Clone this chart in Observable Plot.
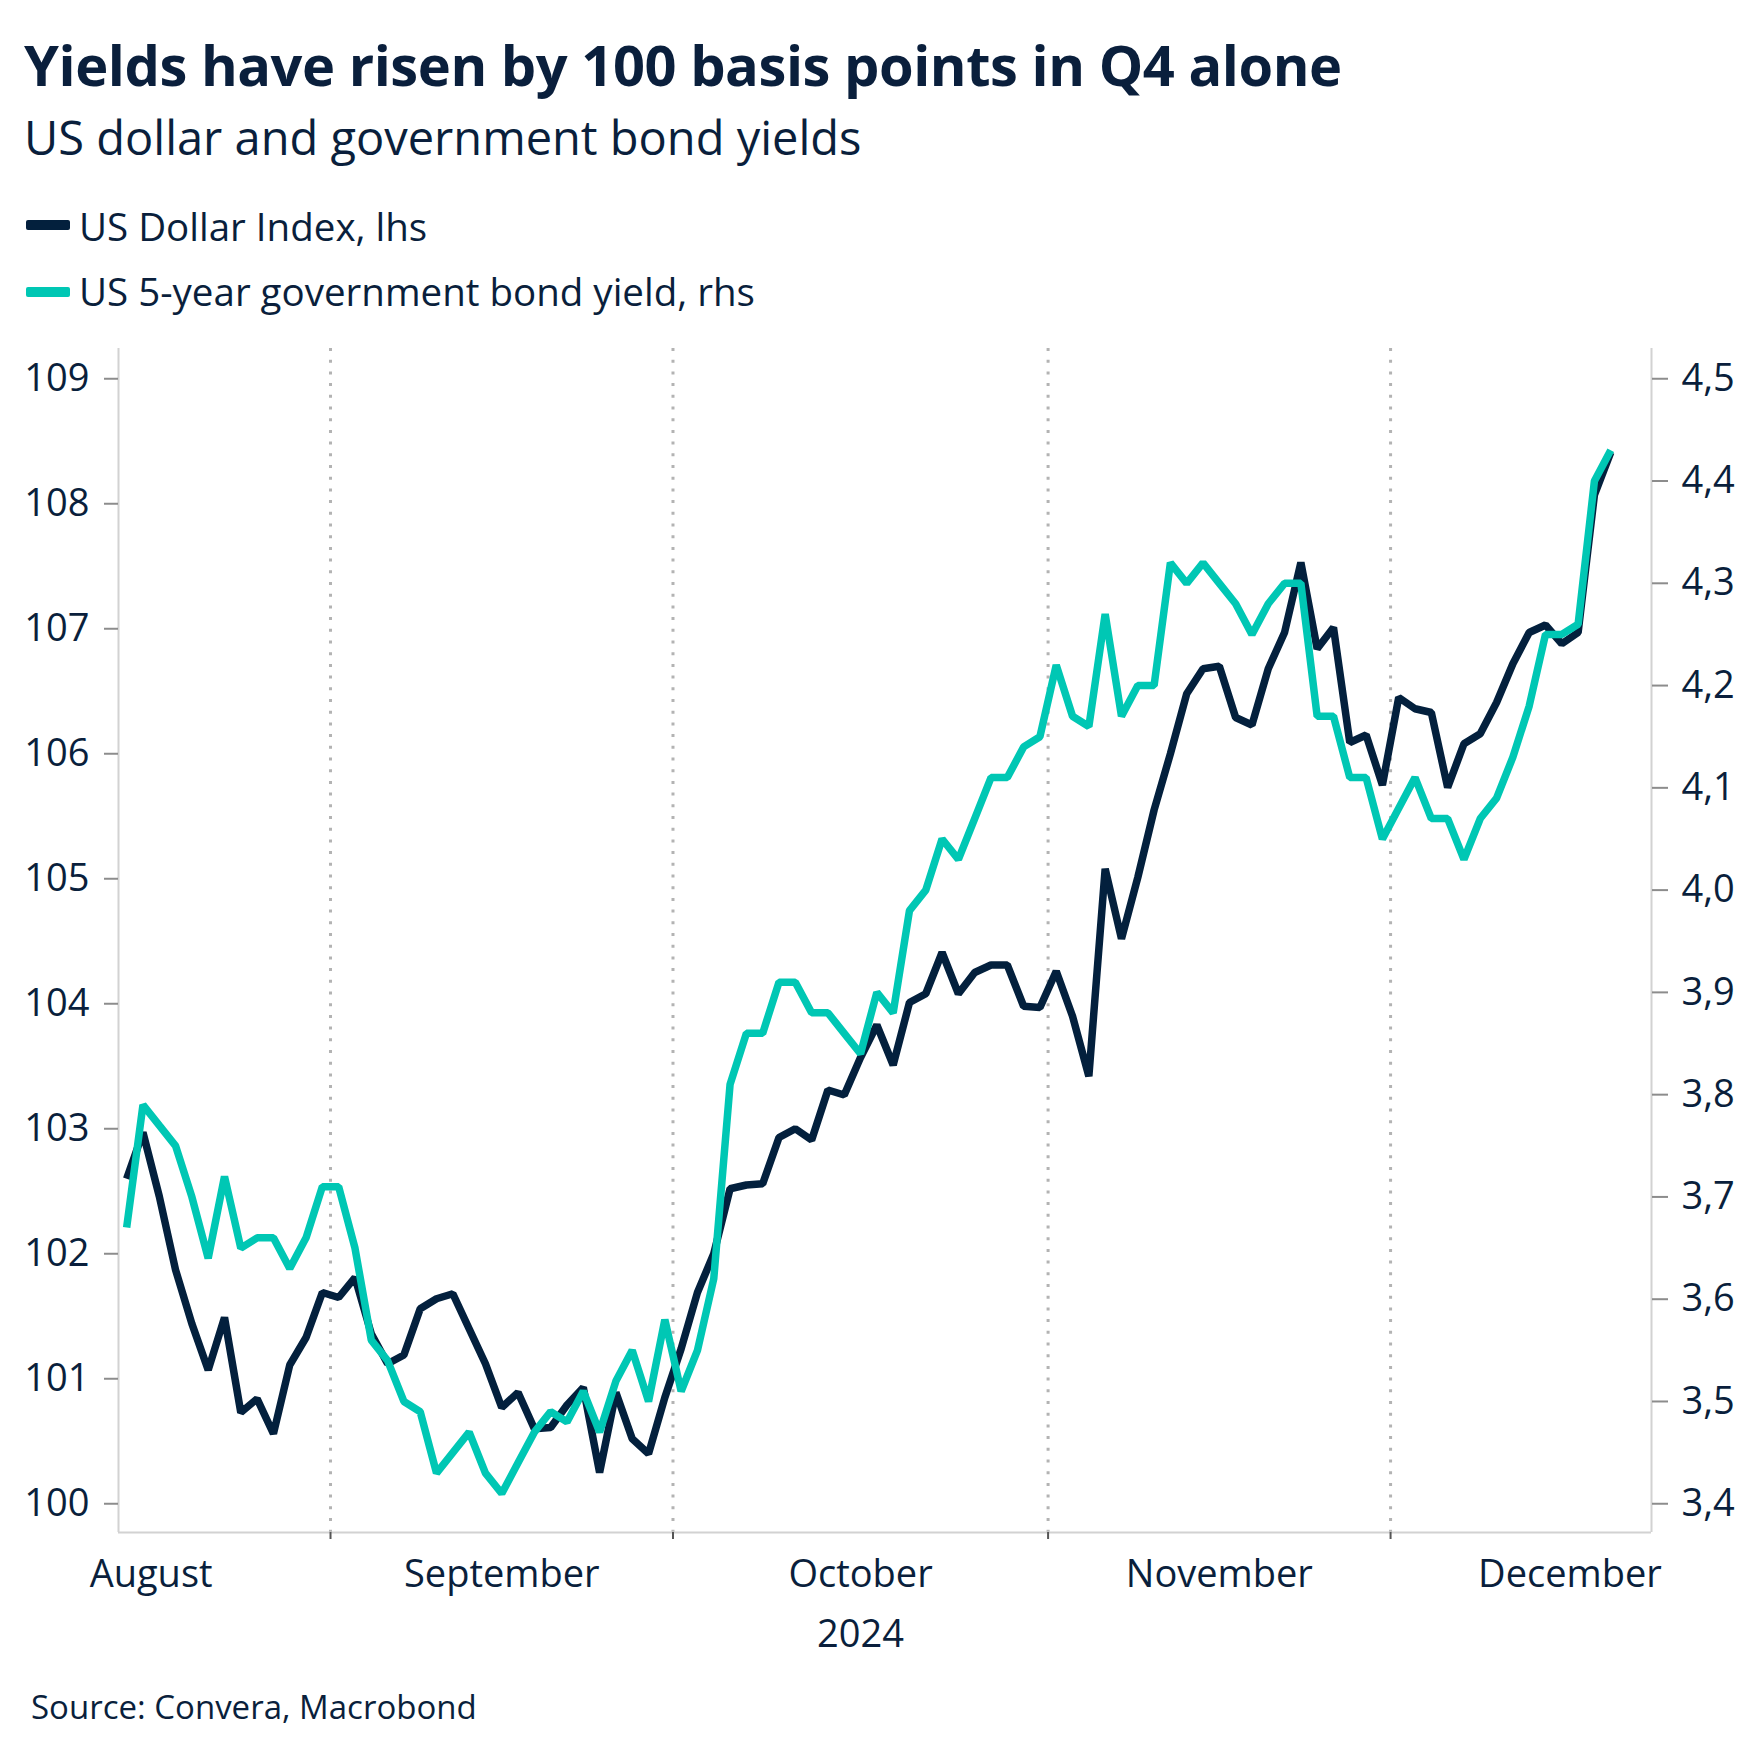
<!DOCTYPE html>
<html>
<head>
<meta charset="utf-8">
<script src="https://cdn.jsdelivr.net/npm/d3@7"></script>
<script src="https://cdn.jsdelivr.net/npm/@observablehq/plot@0.6"></script>
<style>
  html, body { margin: 0; padding: 0; background: #ffffff; }
  #page { position: relative; width: 1758px; height: 1762px; background: #ffffff; font-family: "Open Sans", sans-serif; color: #0a1f3c; }
  .t { position: absolute; white-space: nowrap; line-height: 1; }
  .sw { position: absolute; width: 44px; height: 10px; border-radius: 2px; }
  #chart { position: absolute; left: 0; top: 330px; }
</style>
</head>
<body>
<div id="page">
  <div class="t" id="title" style="left:24px; font-size:56px; font-weight:700; letter-spacing:-0.45px;">Yields have risen by 100 basis points in Q4 alone</div>
  <div class="t" id="subtitle" style="left:24px; font-size:47px;">US dollar and government bond yields</div>
  <div class="sw" id="sw1" style="left:26px; top:220px;"></div>
  <div class="t" id="leg1" style="left:79px; font-size:38.5px;"></div>
  <div class="sw" id="sw2" style="left:26px; top:287px;"></div>
  <div class="t" id="leg2" style="left:79px; font-size:38.5px;"></div>
  <div id="chart"></div>
  <div class="t" id="source" style="left:31px; font-size:33px;">Source: Convera, Macrobond</div>
</div>
<script>
// ---------- data ----------
const dates = [
  "2024-08-14","2024-08-15","2024-08-16","2024-08-19","2024-08-20","2024-08-21","2024-08-22","2024-08-23","2024-08-26","2024-08-27","2024-08-28","2024-08-29","2024-08-30",
  "2024-09-02","2024-09-03","2024-09-04","2024-09-05","2024-09-06","2024-09-09","2024-09-10","2024-09-11","2024-09-12","2024-09-13","2024-09-16","2024-09-17","2024-09-18","2024-09-19","2024-09-20","2024-09-23","2024-09-24","2024-09-25","2024-09-26","2024-09-27","2024-09-30",
  "2024-10-01","2024-10-02","2024-10-03","2024-10-04","2024-10-07","2024-10-08","2024-10-09","2024-10-10","2024-10-11","2024-10-14","2024-10-15","2024-10-16","2024-10-17","2024-10-18","2024-10-21","2024-10-22","2024-10-23","2024-10-24","2024-10-25","2024-10-28","2024-10-29","2024-10-30","2024-10-31",
  "2024-11-01","2024-11-04","2024-11-05","2024-11-06","2024-11-07","2024-11-08","2024-11-11","2024-11-12","2024-11-13","2024-11-14","2024-11-15","2024-11-18","2024-11-19","2024-11-20","2024-11-21","2024-11-22","2024-11-25","2024-11-26","2024-11-27","2024-11-28","2024-11-29",
  "2024-12-02","2024-12-03","2024-12-04","2024-12-05","2024-12-06","2024-12-09","2024-12-10","2024-12-11","2024-12-12","2024-12-13","2024-12-16","2024-12-17","2024-12-18","2024-12-19"
];
const dollarIndex = [
  102.60,102.97,102.46,101.87,101.44,101.07,101.49,100.73,100.84,100.56,101.11,101.33,101.69,
  101.65,101.81,101.36,101.12,101.19,101.56,101.64,101.68,101.40,101.12,100.77,100.89,100.60,100.61,100.79,100.93,100.25,100.89,100.52,100.40,100.85,
  101.24,101.69,102.00,102.52,102.55,102.56,102.93,103.00,102.91,103.31,103.27,103.57,103.83,103.51,104.01,104.08,104.41,104.08,104.25,104.31,104.31,103.98,103.97,
  104.26,103.90,103.42,105.08,104.52,105.01,105.55,106.00,106.48,106.68,106.70,106.29,106.23,106.68,106.97,107.53,106.84,107.01,106.09,106.15,105.75,
  106.45,106.36,106.33,105.73,106.08,106.16,106.41,106.72,106.97,107.03,106.88,106.97,108.07,108.41
];
const yield5y = [
  3.67,3.79,3.77,3.75,3.70,3.64,3.72,3.65,3.66,3.66,3.63,3.66,3.71,
  3.71,3.65,3.56,3.54,3.50,3.49,3.43,3.45,3.47,3.43,3.41,3.44,3.47,3.49,3.48,3.51,3.47,3.52,3.55,3.50,3.58,
  3.51,3.55,3.62,3.81,3.86,3.86,3.91,3.91,3.88,3.88,3.86,3.84,3.90,3.88,3.98,4.00,4.05,4.03,4.07,4.11,4.11,4.14,4.15,
  4.22,4.17,4.16,4.27,4.17,4.20,4.20,4.32,4.30,4.32,4.30,4.28,4.25,4.28,4.30,4.30,4.17,4.17,4.11,4.11,4.05,
  4.08,4.11,4.07,4.07,4.03,4.07,4.09,4.13,4.18,4.25,4.25,4.26,4.40,4.43
];
const seriesNames = ["US Dollar Index, lhs", "US 5-year government bond yield, rhs"];
const leftTicks = [100, 101, 102, 103, 104, 105, 106, 107, 108, 109];
const rightTicks = [3.4, 3.5, 3.6, 3.7, 3.8, 3.9, 4.0, 4.1, 4.2, 4.3, 4.4, 4.5];
const rightTickLabels = ["3,4","3,5","3,6","3,7","3,8","3,9","4,0","4,1","4,2","4,3","4,4","4,5"];
const monthStarts = ["2024-08-01","2024-09-01","2024-10-01","2024-11-01","2024-12-01","2025-01-01"];
const monthLabels = ["August","September","October","November","December"];
const yearLabel = "2024";
const axisStart = "2024-08-14";
const axisEnd = "2024-12-23";

// ---------- colours ----------
const navy = "#03203d";
const teal = "#00c7b4";
const textColor = "#0a1f3c";

// ---------- helpers ----------
const start = new Date(axisStart);
const isWeekday = d => d.getUTCDay() % 6 !== 0;
function wdIndex(s) {
  const d = new Date(s);
  if (d >= start) return d3.utcDays(start, d).filter(isWeekday).length;
  return -d3.utcDays(d, start).filter(isWeekday).length;
}
// left scale 100..109 corresponds to right scale 3.4..4.5
const toLeft = v => 100 + (v - 3.4) * 9 / 1.1;

const rows = dates.map((d, i) => ({xi: wdIndex(d) + 0.5, dxy: dollarIndex[i], y5: yield5y[i]}));
const xMax = wdIndex(axisEnd) + 1;
const monthIdx = monthStarts.map(wdIndex);
const boundaries = monthIdx.slice(1, -1);
const monthMids = monthLabels.map((m, i) => (monthIdx[i] + monthIdx[i + 1]) / 2);
const rightTicksLeft = rightTicks.map(toLeft);
const yMin = 99.77, yMax = 109.242;

// ---------- header ----------
function placeBaseline(id, baseline) {
  const el = document.getElementById(id);
  const fs = parseFloat(el.style.fontSize);
  el.style.top = (baseline - 0.888 * fs) + "px";
}
document.getElementById("leg1").textContent = seriesNames[0];
document.getElementById("leg2").textContent = seriesNames[1];
document.getElementById("sw1").style.background = navy;
document.getElementById("sw2").style.background = teal;
placeBaseline("title", 86);
placeBaseline("subtitle", 156);
placeBaseline("leg1", 241);
placeBaseline("leg2", 306);
placeBaseline("source", 1719);

// ---------- chart ----------
const chart = Plot.plot({
  width: 1758,
  height: 1340,
  marginTop: 18,
  marginBottom: 138,
  marginLeft: 118,
  marginRight: 107,
  x: {domain: [0, xMax]},
  y: {domain: [yMin, yMax]},
  style: {fontFamily: "'Open Sans', sans-serif", fontSize: "38px", color: textColor, background: "white", overflow: "visible"},
  marks: [
    Plot.ruleX(boundaries, {stroke: "#b3b3b3", strokeWidth: 3, strokeDasharray: "3,8.7"}),
    Plot.ruleX([0, xMax], {stroke: "#d2d2d2", strokeWidth: 2}),
    Plot.ruleY([yMin], {stroke: "#d2d2d2", strokeWidth: 2}),
    Plot.axisY(leftTicks, {anchor: "left", tickSize: 14, tickPadding: 15, stroke: "#8c8c8c", strokeWidth: 2, fill: textColor, tickFormat: d => String(d), label: null}),
    Plot.axisY(rightTicksLeft, {anchor: "right", tickSize: 16, tickPadding: 14, stroke: "#8c8c8c", strokeWidth: 2, fill: textColor, tickFormat: d => rightTickLabels[rightTicksLeft.indexOf(d)], label: null}),
    Plot.axisX(boundaries, {anchor: "bottom", tickSize: 7, stroke: "#555555", strokeWidth: 2, tickFormat: () => "", label: null}),
    Plot.axisX(monthMids, {anchor: "bottom", tickSize: 0, tickPadding: 28, fill: textColor, tickFormat: d => monthLabels[monthMids.indexOf(d)], label: null}),
    Plot.text([yearLabel], {x: () => monthMids[2], text: d => d, frameAnchor: "bottom", lineAnchor: "top", dy: 88, fill: textColor}),
    Plot.line(rows, {x: "xi", y: "dxy", stroke: navy, strokeWidth: 7.5, strokeLinejoin: "miter", strokeLinecap: "butt"}),
    Plot.line(rows, {x: "xi", y: d => toLeft(d.y5), stroke: teal, strokeWidth: 7.5, strokeLinejoin: "miter", strokeLinecap: "butt"})
  ]
});
document.getElementById("chart").appendChild(chart);
</script>
</body>
</html>
